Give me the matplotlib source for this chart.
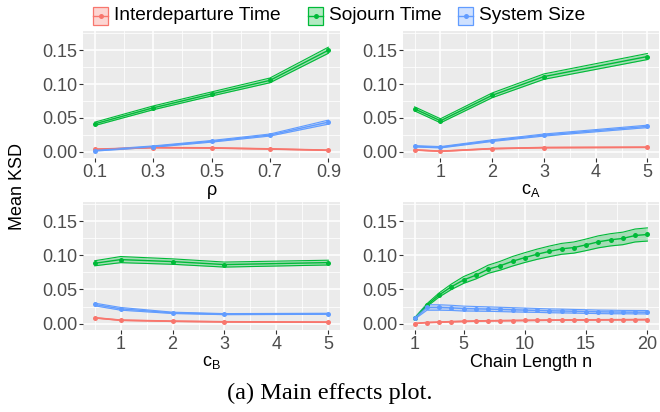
"""Main effects plot: mean KSD against each factor, with ribbons."""

import matplotlib
matplotlib.use("Agg")
import matplotlib.pyplot as plt
from matplotlib.lines import Line2D
from matplotlib.patches import Rectangle

plt.rcParams["font.family"] = ["Liberation Sans", "DejaVu Sans"]

series_names = ["Interdeparture Time", "Sojourn Time", "System Size"]
series_colors = ["#F8766D", "#00BA38", "#619CFF"]

# rho panel
rho = [0.1, 0.3, 0.5, 0.7, 0.9]
rho_inter = [0.0034, 0.0059, 0.0054, 0.0039, 0.0020]
rho_inter_err = [0.0005, 0.0005, 0.0005, 0.0005, 0.0005]
rho_sojourn = [0.0410, 0.0647, 0.0853, 0.1054, 0.1500]
rho_sojourn_err = [0.0025, 0.0028, 0.0030, 0.0035, 0.0045]
rho_size = [0.0015, 0.0074, 0.0152, 0.0245, 0.0436]
rho_size_err = [0.0008, 0.0010, 0.0012, 0.0015, 0.0030]

# c_A panel
ca = [0.5, 1, 2, 3, 5]
ca_inter = [0.0025, 0.0005, 0.0044, 0.0059, 0.0064]
ca_inter_err = [0.0005, 0.0005, 0.0005, 0.0005, 0.0005]
ca_sojourn = [0.0632, 0.0456, 0.0833, 0.1110, 0.1407]
ca_sojourn_err = [0.0030, 0.0030, 0.0035, 0.0040, 0.0045]
ca_size = [0.0078, 0.0064, 0.0162, 0.0245, 0.0373]
ca_size_err = [0.0010, 0.0010, 0.0012, 0.0015, 0.0018]

# c_B panel
cb = [0.5, 1, 2, 3, 5]
cb_inter = [0.0084, 0.0049, 0.0034, 0.0025, 0.0020]
cb_inter_err = [0.0005, 0.0005, 0.0005, 0.0005, 0.0005]
cb_sojourn = [0.0885, 0.0939, 0.0910, 0.0866, 0.0895]
cb_sojourn_err = [0.0037, 0.0045, 0.0040, 0.0037, 0.0035]
cb_size = [0.0280, 0.0216, 0.0157, 0.0138, 0.0143]
cb_size_err = [0.0020, 0.0020, 0.0010, 0.0008, 0.0008]

# chain length panel
chain_n = [1, 2, 3, 4, 5, 6, 7, 8, 9, 10, 11, 12, 13, 14, 15, 16, 17, 18, 19, 20]
n_inter = [0.0000, 0.0015, 0.0020, 0.0027, 0.0032, 0.0036, 0.0040, 0.0042, 0.0044, 0.0046,
           0.0048, 0.0050, 0.0051, 0.0052, 0.0053, 0.0054, 0.0055, 0.0056, 0.0057, 0.0058]
n_inter_err = [0.0003, 0.0004, 0.0004, 0.0005, 0.0005, 0.0005, 0.0005, 0.0005, 0.0005, 0.0005,
               0.0005, 0.0005, 0.0005, 0.0005, 0.0005, 0.0005, 0.0005, 0.0005, 0.0005, 0.0005]
n_sojourn = [0.0074, 0.0270, 0.0420, 0.0540, 0.0640, 0.0710, 0.0797, 0.0850, 0.0915, 0.0969,
             0.1018, 0.1060, 0.1097, 0.1116, 0.1156, 0.1200, 0.1230, 0.1250, 0.1293, 0.1308]
n_sojourn_err = [0.0010, 0.0020, 0.0030, 0.0040, 0.0050, 0.0055, 0.0060, 0.0065, 0.0070, 0.0072,
                 0.0075, 0.0078, 0.0080, 0.0082, 0.0085, 0.0088, 0.0090, 0.0092, 0.0095, 0.0097]
n_size = [0.0074, 0.0236, 0.0236, 0.0230, 0.0220, 0.0216, 0.0212, 0.0207, 0.0202, 0.0197,
          0.0192, 0.0187, 0.0184, 0.0180, 0.0176, 0.0172, 0.0170, 0.0168, 0.0167, 0.0166]
n_size_err = [0.0010, 0.0040, 0.0040, 0.0038, 0.0036, 0.0034, 0.0033, 0.0032, 0.0031, 0.0030,
              0.0029, 0.0028, 0.0028, 0.0027, 0.0027, 0.0026, 0.0026, 0.0025, 0.0025, 0.0025]

y_ticks = [0.00, 0.05, 0.10, 0.15]
y_minor = [0.025, 0.075, 0.125, 0.175]
y_lim = (-0.0095, 0.1785)

GRAY_BG = "#EBEBEB"


def draw_panel(ax, x, series, xticks, xticklabels, xminor, xlim, xlabel):
    ax.set_facecolor(GRAY_BG)
    for side in ax.spines.values():
        side.set_visible(False)
    ax.set_axisbelow(True)
    # ribbons first, then the mean lines on top
    for (mean, err), color in zip(series, series_colors):
        lo = [m - e for m, e in zip(mean, err)]
        hi = [m + e for m, e in zip(mean, err)]
        ax.fill_between(x, lo, hi, color=color, alpha=0.3, lw=0)
        ax.plot(x, lo, color=color, lw=0.8)
        ax.plot(x, hi, color=color, lw=0.8)
    for (mean, err), color in zip(series, series_colors):
        ax.plot(x, mean, color=color, lw=1.0, marker="o", ms=3.6, mew=0)
    ax.set_xlim(*xlim)
    ax.set_ylim(*y_lim)
    ax.set_xticks(xticks)
    ax.set_xticklabels(xticklabels)
    ax.set_xticks(xminor, minor=True)
    ax.set_yticks(y_ticks)
    ax.set_yticklabels(["0.00", "0.05", "0.10", "0.15"])
    ax.set_yticks(y_minor, minor=True)
    ax.grid(which="major", color="white", lw=1.1)
    ax.grid(which="minor", color="white", lw=0.55)
    ax.tick_params(which="major", length=2.8, width=0.8, color="#333333",
                   labelsize=13, labelcolor="#4D4D4D", pad=1.5)
    ax.tick_params(which="minor", length=0)
    ax.set_xlabel(xlabel, fontsize=13, color="black", labelpad=1)


fig = plt.figure(figsize=(6.6, 4.12), dpi=100)
W, H = 660.0, 412.0


def box(left, top, right, bottom):
    return [left / W, 1 - bottom / H, (right - left) / W, (bottom - top) / H]


ax_rho = fig.add_axes(box(83, 31, 340, 158))
ax_ca = fig.add_axes(box(403, 31, 659, 158))
ax_cb = fig.add_axes(box(83, 202, 340, 330))
ax_n = fig.add_axes(box(403, 202, 659, 330))

draw_panel(ax_rho, rho,
           [(rho_inter, rho_inter_err), (rho_sojourn, rho_sojourn_err), (rho_size, rho_size_err)],
           [0.1, 0.3, 0.5, 0.7, 0.9], ["0.1", "0.3", "0.5", "0.7", "0.9"],
           [0.2, 0.4, 0.6, 0.8], (0.06, 0.94), "ρ")
draw_panel(ax_ca, ca,
           [(ca_inter, ca_inter_err), (ca_sojourn, ca_sojourn_err), (ca_size, ca_size_err)],
           [1, 2, 3, 4, 5], ["1", "2", "3", "4", "5"],
           [0.5, 1.5, 2.5, 3.5, 4.5], (0.275, 5.225), r"$\mathregular{c_A}$")
draw_panel(ax_cb, cb,
           [(cb_inter, cb_inter_err), (cb_sojourn, cb_sojourn_err), (cb_size, cb_size_err)],
           [1, 2, 3, 4, 5], ["1", "2", "3", "4", "5"],
           [0.5, 1.5, 2.5, 3.5, 4.5], (0.275, 5.225), r"$\mathregular{c_B}$")
draw_panel(ax_n, chain_n,
           [(n_inter, n_inter_err), (n_sojourn, n_sojourn_err), (n_size, n_size_err)],
           [1, 5, 10, 15, 20], ["1", "5", "10", "15", "20"],
           [3, 7.5, 12.5, 17.5], (0.05, 20.95), "Chain Length n")

fig.text(18 / W, 1 - 186 / H, "Mean KSD", rotation=90, fontsize=13,
         ha="center", va="center")

# legend along the top: key box with line and point, then label
key_left = [93, 308, 458]
key_w = 15
for name, color, kx in zip(series_names, series_colors, key_left):
    fig.add_artist(Rectangle((kx / W, 1 - 25 / H), key_w / W, 18 / H,
                             transform=fig.transFigure, facecolor=color,
                             alpha=0.3, edgecolor="none"))
    fig.add_artist(Rectangle((kx / W, 1 - 25 / H), key_w / W, 18 / H,
                             transform=fig.transFigure, facecolor="none",
                             edgecolor=color, lw=0.9))
    fig.add_artist(Line2D([kx / W, (kx + key_w) / W], [1 - 16 / H, 1 - 16 / H],
                          transform=fig.transFigure, color=color, lw=1.0))
    fig.add_artist(Line2D([(kx + key_w / 2) / W], [1 - 16 / H], transform=fig.transFigure,
                          color=color, marker="o", ms=3.6, mew=0))
    fig.text((kx + key_w + 6) / W, 1 - 16 / H, name, fontsize=13.8, ha="left", va="center")

fig.text(0.5, 1 - 393 / H, "(a) Main effects plot.", fontsize=17.5,
         family=["Liberation Serif", "DejaVu Serif"], ha="center", va="center")

fig.savefig("out.png", dpi=100)
